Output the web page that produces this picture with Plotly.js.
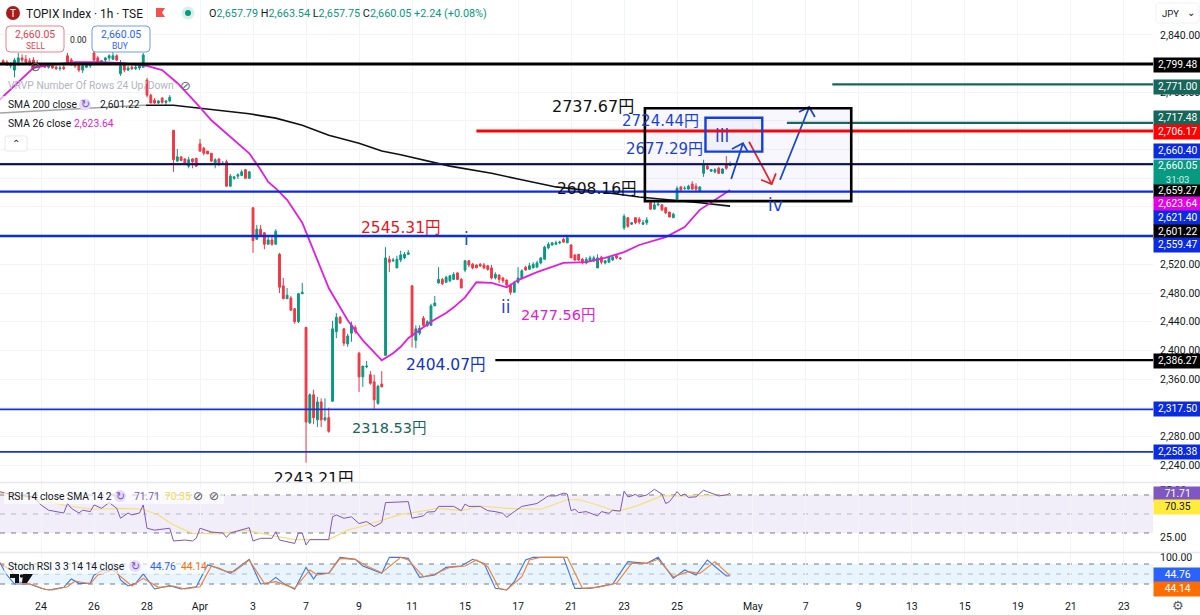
<!DOCTYPE html>
<html>
<head>
<meta charset="utf-8">
<script src="https://cdn.plot.ly/plotly-3.0.1.min.js"></script>
<style>html,body{margin:0;padding:0;background:#fff}#chart{width:1200px;height:615px}</style>
</head>
<body>
<div id="chart"></div>
<script>
// ---------- data ----------
const firstBar = -10;
const opens = [2804,2802,2797,2791,2802,2808,2806,2804,2805,2800,
2798,2798,2795,2797,2795,2793,2795,
2811,2805,2800,2798,2791,2795,2797,
2815,2808,2802,2805,2808,2806,2811,
2786,2798,2791,2795,2793,2794,2795,
2777,2756,2749,2745,2752,2746,2748,
2707,2664,2670,2667,2657,2667,2668,
2688,2682,2678,2675,2661,2667,2660,
2663,2629,2640,2643,2644,2652,2640,
2599,2555,2569,2564,2548,2554,2548,
2534,2490,2472,2473,2458,2440,2479,
2432,2299,2338,2303,2328,2303,2306,
2329,2426,2446,2430,2409,2424,2432,
2396,2363,2377,2366,2356,2326,2353,
2393,2527,2525,2515,2526,2529,2534,
2490,2414,2424,2445,2434,2435,2462,
2494,2499,2495,2497,2499,2508,2499,
2512,2525,2520,2519,2520,2519,2518,
2515,2501,2505,2501,2498,2491,2481,
2495,2501,2516,2513,2515,2516,2522,
2527,2543,2547,2548,2550,2555,2550,
2547,2533,2534,2527,2522,2525,2525,
2515,2530,2522,2523,2526,2532,2529,
2571,2585,2576,2585,2583,2576,2578,
2606,2597,2603,2603,2599,2593,2585,
2611,2628,2626,2625,2632,2629,2622,
2647,2657,2650,2649,2654,2647,2659,2657.79];
const highs = [2806,2805,2802,2808,2815,2813,2812,2808,2809,2805,
2801,2801,2798,2800,2797,2797,2798,
2815,2808,2802,2801,2800,2801,2802,
2819,2811,2805,2809,2813,2816,2813,
2805,2801,2797,2798,2798,2798,2815,
2780,2758,2752,2749,2753,2749,2756,
2707,2681,2670,2668,2670,2668,2668,
2695,2684,2678,2675,2668,2668,2664,
2666,2646,2643,2647,2652,2653,2650,
2599,2575,2575,2565,2561,2560,2569,
2536,2501,2487,2476,2459,2480,2494,
2432,2340,2345,2335,2333,2333,2320,
2441,2452,2448,2431,2423,2440,2435,
2398,2378,2385,2371,2366,2352,2371,
2544,2532,2529,2532,2539,2537,2540,
2491,2435,2435,2448,2442,2465,2476,
2516,2501,2504,2505,2509,2509,2501,
2526,2526,2522,2520,2522,2522,2519,
2519,2509,2506,2502,2499,2493,2497,
2516,2513,2518,2522,2523,2525,2530,
2546,2551,2551,2553,2553,2557,2561,
2548,2534,2534,2529,2530,2532,2532,
2534,2532,2526,2532,2533,2533,2530,
2590,2586,2579,2586,2586,2582,2586,
2607,2607,2607,2604,2600,2593,2592,
2629,2629,2629,2631,2636,2633,2629,
2666,2659,2653,2654,2656,2654,2671,2663.54];
const lows = [2801,2797,2794,2781,2797,2802,2801,2797,2791,2794,
2795,2794,2793,2793,2791,2790,2791,
2801,2797,2794,2788,2787,2794,2794,
2802,2800,2801,2802,2804,2805,2804,
2783,2788,2790,2791,2791,2791,2795,
2753,2745,2744,2744,2744,2742,2746,
2649,2663,2664,2660,2654,2654,2656,
2677,2672,2674,2663,2654,2657,2659,
2629,2629,2638,2639,2643,2640,2640,
2536,2554,2560,2541,2548,2546,2548,
2480,2472,2472,2455,2437,2438,2479,
2243.21,2297,2297,2293,2293,2301,2285,
2329,2417,2437,2406,2405,2412,2423,
2342,2349,2375,2352,2318.53,2324,2349,
2393,2509,2523,2515,2523,2527,2533,
2404.07,2403,2421,2433,2433,2434,2462,
2493,2491,2494,2495,2499,2498,2487,
2509,2516,2513,2515,2516,2513,2511,
2499,2499,2494,2494,2488,2477.56,2481,
2493,2499,2511,2513,2515,2516,2520,
2527,2541,2546,2547,2548,2550,2550,
2529,2525,2525,2520,2520,2525,2523,
2515,2520,2520,2522,2525,2527,2526,
2568,2571,2575,2576,2576,2575,2575,
2596,2597,2601,2594,2590,2586,2585,
2610,2621,2624,2624,2624,2622,2622,
2642,2652,2649,2647,2646,2646,2652,2657.75];
const closes = [2801,2798,2800,2805,2808,2805,2802,2800,2795,2797,
2797,2795,2797,2794,2793,2794,2793,
2802,2800,2797,2791,2797,2798,2800,
2805,2802,2804,2808,2811,2811,2805,
2797,2791,2794,2793,2795,2797,2812,
2756,2745,2745,2748,2746,2748,2753,
2666,2670,2665,2661,2666,2663,2657,
2678,2675,2674,2664,2666,2660,2661,
2629,2643,2642,2645,2649,2640,2649,
2553,2569,2561,2548,2554,2548,2566,
2488,2472,2477,2456,2440,2479,2481,
2300,2338,2306,2328,2303,2306,2287,
2430,2446,2438,2410,2420,2435,2426,
2363,2378,2378,2354,2331,2350,2349,
2529,2523,2526,2527,2533,2534,2536,
2420,2430,2431,2435,2440,2462,2466,
2499,2493,2502,2504,2506,2499,2487,
2525,2519,2515,2515,2518,2515,2513,
2501,2506,2499,2497,2491,2481,2494,
2501,2511,2512,2518,2520,2522,2529,
2544,2548,2550,2550,2551,2551,2557,
2529,2526,2526,2522,2527,2529,2529,
2529,2523,2525,2530,2530,2529,2528,
2587,2573,2578,2578,2579,2578,2582,
2597,2603,2604,2596,2592,2586,2590,
2626,2624,2626,2629,2625,2625,2628,
2659,2653,2652,2652,2647,2653,2654,2660.05];

const sma26Bars = [-11,-9,-2,2,9,15,21,28,32,36,41,45,51,55,58,60,62,65,69,76,81,85,90,93,95,97,103,107,109,112,115,119,123,126,131,138,144,149,154,158,165,170,174,177,182];
const sma26Vals = [2749,2759,2794,2798,2802,2802,2801,2797,2791,2773,2745,2721,2693,2675,2652,2635,2626,2610,2578,2487,2442,2414,2386,2396,2405,2417,2440,2452,2460,2474,2495,2494,2488,2498,2509,2522,2523,2529,2537,2547,2558,2572,2596,2606,2623.64];
const sma200Bars = [-11,27,35,44,55,62,69,76,84,90,95,108,119,126,136,148,158,174,182];
const sma200Vals = [2731,2742,2742,2737,2730,2724,2714,2700,2689,2678,2673,2657,2647,2639,2628,2621,2614,2606,2601.22];

const rsiBars = [-11,-7,-2,0,2,6,7,8,10,11,13,14,16,18,20,21,23,24,26,27,28,30,34,35,38,40,41,42,45,48,49,50,55,56,58,61,62,63,67,68,69,70,71,76,77,78,80,82,84,86,88,90,91,95,97,98,101,102,104,105,109,111,112,113,116,118,120,122,123,125,127,131,134,136,138,139,140,141,142,144,147,148,150,151,153,154,155,156,157,158,160,162,164,165,166,168,169,170,171,173,175,176,178,179,181,182];
const rsiVals = [73.5,70,68,59.5,54,51,61,56,51,54,52.5,59.5,56,62,56,45.5,51,49,51,59.5,35,33,35,21.6,22.6,21.6,24.4,35,31,30,25.4,30,35.6,21.6,24.4,24.4,31.4,22.6,19,30,30,17.4,23,23,47,49,45.5,47,40,42,36.7,41,62,63,63,45.5,48,52,52.5,58,58,53.5,60.5,58,58,53.5,52.5,50.7,46.5,52.5,58,61,69,69,72,71,53.5,55,51.4,52.5,48,52.5,50.7,54,53,74,68,69,70.7,68,70,76,71,61,63,73.5,69,71,67.5,68,75,73.5,70,69,70,71.71];
const rsiSmaBars = [-11,-2,2,7,14,21,27,31,35,40,47,54,60,67,76,81,86,95,99,105,111,116,123,132,139,142,147,152,157,164,170,174,179,182];
const rsiSmaVals = [72,66.5,63,58.4,55,56,55,49,38.4,29.6,29,33,28,23,23,33,38.4,49.6,52,56,53.5,58.4,56,55,65,65,59.5,52.5,58,69,69,69,69.6,70.35];

const stochKBars = [-11,-9,-7,-3,0,2,6,8,10,13,14,16,20,21,23,25,27,30,34,37,41,44,47,50,55,58,60,62,64,67,70,72,73,76,79,83,85,90,92,95,97,100,104,107,111,114,117,120,123,125,128,130,138,141,145,151,155,160,163,167,170,173,176,181,182];
const stochKVals = [87,47,20,20,7,2,10,35,22,22,47,60,62,32,14,22,50,5,15,5,12,77,67,52,94,20,22,40,22,4,70,35,52,52,100,94,74,52,100,100,97,40,47,70,74,94,82,7,2,27,92,100,100,7,7,20,87,82,100,37,62,47,92,44,44.76];
const stochDBars = [-11,-8,-6,-2,1,3,7,9,13,15,19,22,24,27,31,35,38,42,45,49,51,55,59,62,67,71,73,76,79,83,86,90,95,97,101,104,108,112,115,118,121,123,127,129,132,139,143,147,152,156,160,163,167,171,174,178,182];
const stochDVals = [82,62,27,17,4,2,12,29,20,47,62,32,14,37,10,14,5,12,74,57,57,92,22,27,7,62,47,52,97,94,74,54,100,92,42,50,70,74,92,72,7,2,42,92,100,100,7,10,22,82,82,94,42,57,52,87,44.14];

// Price levels: [price, first bar, colour, width]
const levelPrices = [2799.48,2771.00,2717.48,2706.17,2660.40,2659.27,2621.40,2559.47,2386.27,2317.50,2258.38];
const levelStarts = [-11,209,197,115,-11,-11,-11,-11,120,-11,-11];
const levelColors = ['#000000','#17665a','#17665a','#ff0000','#1426c8','#0b0f3a','#0a2be0','#0a2be0','#000000','#1433d6','#1433d6'];
const levelWidths = [3,2.2,2.2,3,1.2,1.4,2.4,2.4,2.2,1.8,1.8];

// Elliott wave forecast drawing: tail, tip, wing, tip, wing
const arrowUpBars = [182.3,185.4,182.5,185.4,186.7];
const arrowUpPrices = [2639,2689,2681,2689,2677];
const arrowDownBars = [187,193,190.2,193,194.1];
const arrowDownPrices = [2691,2632,2638,2632,2647];
const arrowUp2Bars = [195.2,202.9,200.2,202.9,204.4];
const arrowUp2Prices = [2638,2739.5,2732.5,2739.5,2725.5];

const dateTickBars = [0,14,28,42,56,70,84,98,112,126,140,154,168,188,202,216,230,244,258,272,286];
const dateTickText = ['24','26','28','Apr','3','7','9','11','15','17','21','23','25','May','7','9','13','15','19','21','23'];
const priceTicks = [2840,2800,2760,2720,2680,2640,2600,2560,2520,2480,2440,2400,2360,2320,2280,2240];

// ---------- layout helpers (picture pixels to paper) ----------
const W = 1153, H = 592;
const X = p => p / W, Y = p => 1 - p / H;
const UI = 'Roboto, Arial, sans-serif';
const CJK = '"DejaVu Sans", "Noto Sans CJK JP", sans-serif';
const UP = '#089981', DOWN = '#f23645';

const bars = opens.map((_, k) => k + firstBar);
const traces = [];
traces.push({type:'scatter',mode:'lines',x:sma200Bars,y:sma200Vals,line:{color:'#111111',width:1.6},hoverinfo:'skip',xaxis:'x',yaxis:'y',cliponaxis:true});
traces.push({type:'candlestick',x:bars,open:opens,high:highs,low:lows,close:closes,whiskerwidth:0,
  increasing:{line:{color:UP,width:1},fillcolor:UP},decreasing:{line:{color:DOWN,width:1},fillcolor:DOWN},hoverinfo:'skip',xaxis:'x',yaxis:'y'});
traces.push({type:'scatter',mode:'lines',x:sma26Bars,y:sma26Vals,line:{color:'#e01ee0',width:1.8},hoverinfo:'skip',xaxis:'x',yaxis:'y'});
traces.push({type:'scatter',mode:'lines',x:arrowUpBars,y:arrowUpPrices,line:{color:'#1848cc',width:1.8},hoverinfo:'skip'});
traces.push({type:'scatter',mode:'lines',x:arrowDownBars,y:arrowDownPrices,line:{color:'#ee2222',width:1.8},hoverinfo:'skip'});
traces.push({type:'scatter',mode:'lines',x:arrowUp2Bars,y:arrowUp2Prices,line:{color:'#1848cc',width:1.8},hoverinfo:'skip'});
traces.push({type:'scatter',mode:'text',x:[72],y:[2219],text:['2243.21円'],textposition:'middle center',cliponaxis:true,
  textfont:{family:CJK,size:15.5,color:'#111111'},hoverinfo:'skip'});
traces.push({type:'scatter',mode:'lines',x:rsiSmaBars,y:rsiSmaVals,line:{color:'#f3e07a',width:1.2},hoverinfo:'skip',xaxis:'x',yaxis:'y2'});
traces.push({type:'scatter',mode:'lines',x:rsiBars,y:rsiVals,line:{color:'#7e57c2',width:1},hoverinfo:'skip',xaxis:'x',yaxis:'y2'});
traces.push({type:'scatter',mode:'lines',x:stochKBars,y:stochKVals,line:{color:'#3f73e8',width:1.1},hoverinfo:'skip',xaxis:'x',yaxis:'y3'});
traces.push({type:'scatter',mode:'lines',x:stochDBars,y:stochDVals,line:{color:'#f08030',width:1.1},hoverinfo:'skip',xaxis:'x',yaxis:'y3'});

const shapes = [];
// indicator bands
shapes.push({type:'rect',xref:'paper',x0:0,x1:1,yref:'y2',y0:30,y1:70,fillcolor:'rgba(126,87,194,0.10)',line:{width:0},layer:'below'});
shapes.push({type:'rect',xref:'paper',x0:0,x1:1,yref:'y3',y0:20,y1:80,fillcolor:'rgba(33,150,243,0.10)',line:{width:0},layer:'below'});
[[70,'y2'],[50,'y2'],[30,'y2'],[80,'y3'],[50,'y3'],[20,'y3']].forEach(([v,ax],n)=>{
  shapes.push({type:'line',xref:'paper',x0:0,x1:1,yref:ax,y0:v,y1:v,line:{color:(n===1||n===4)?'#b8bac2':'#787b86',width:1,dash:'5px 6px'},layer:'below'});
});
// pane separators
[482.5,552.5].forEach(p=>shapes.push({type:'line',xref:'paper',yref:'paper',x0:0,x1:1200/W,y0:Y(p),y1:Y(p),line:{color:'#e6e8ee',width:1.5}}));
// price levels
levelPrices.forEach((p,k)=>shapes.push({type:'line',xref:'x',yref:'y',x0:levelStarts[k],x1:294,y0:p,y1:p,line:{color:levelColors[k],width:levelWidths[k]}}));
// Rectangles between the labelled prices
shapes.push({type:'rect',xref:'x',yref:'y',x0:159.5,x1:214,y0:2608.16,y1:2737.67,line:{color:'#000000',width:2.6},fillcolor:'rgba(90,90,210,0.05)'});
shapes.push({type:'rect',xref:'x',yref:'y',x0:175.5,x1:190.5,y0:2677.29,y1:2724.44,line:{color:'#1440d8',width:2.4},fillcolor:'rgba(90,90,210,0.04)'});

// interface chrome
function round(x0,y0,x1,y1,r,line,fill,w){
  const a=X,b=Y;
  shapes.push({type:'path',xref:'paper',yref:'paper',fillcolor:fill,line:{color:line,width:w||1},
   path:`M${a(x0+r)},${b(y0)} L${a(x1-r)},${b(y0)} Q${a(x1)},${b(y0)} ${a(x1)},${b(y0+r)} L${a(x1)},${b(y1-r)} Q${a(x1)},${b(y1)} ${a(x1-r)},${b(y1)} L${a(x0+r)},${b(y1)} Q${a(x0)},${b(y1)} ${a(x0)},${b(y1-r)} L${a(x0)},${b(y0+r)} Q${a(x0)},${b(y0)} ${a(x0+r)},${b(y0)} Z`});
}
function circle(cx,cy,rad,fill){
  shapes.push({type:'circle',xref:'paper',yref:'paper',x0:X(cx-rad),x1:X(cx+rad),y0:Y(cy+rad),y1:Y(cy-rad),fillcolor:fill,line:{width:0}});
}
function poly(pts,fill){
  shapes.push({type:'path',xref:'paper',yref:'paper',fillcolor:fill,line:{width:0},path:'M'+pts.map(p=>X(p[0])+','+Y(p[1])).join(' L')+' Z'});
}
const veil='rgba(255,255,255,0.62)';
shapes.push({type:'rect',xref:'paper',yref:'paper',x0:0,x1:X(146),y0:Y(132),y1:Y(96),fillcolor:veil,line:{width:0}});
shapes.push({type:'rect',xref:'paper',yref:'paper',x0:X(4),x1:X(224),y0:Y(504),y1:Y(488),fillcolor:veil,line:{width:0}});
shapes.push({type:'rect',xref:'paper',yref:'paper',x0:X(4),x1:X(205),y0:Y(574),y1:Y(558),fillcolor:veil,line:{width:0}});
round(6,26,64,52,4,'#f0808a','#ffffff',1);
round(92,26,150,52,4,'#6f9cf0','#ffffff',1);
round(5,136,27,151,2,'#e6e8ee','#ffffff',1);
round(1156,3,1199,23,3,'#f0f1f4','#ffffff',1);
circle(13,13,7,'#a81b1b');
poly([[156,8],[165,8],[162,12.5],[165,17],[156,17]],'#f2524e');
circle(188,13,6.5,'#d9efe9');
circle(188,13,3,UP);
circle(85,104.5,6,'#e6dcf7');
circle(120,496,6,'#e6dcf7');
circle(135,566,6,'#e6dcf7');
// small mark in the corner of the lower pane
poly([[10,574],[19,574],[19,583],[15,583],[15,578],[10,578]],'#111111');
poly([[23,574],[33,574],[27,583],[22,583]],'#111111');
circle(21.5,576,1.7,'#111111');

const ann = [];
function text(px,py,str,opt={}){
  ann.push(Object.assign({xref:'paper',yref:'paper',x:X(px),y:Y(py),text:str,showarrow:false,
    xanchor:opt.a||'left',yanchor:'middle',align:opt.align||'left',borderpad:0,
    font:{family:opt.f||UI,size:opt.s||10.3,color:opt.c||'#131722'}},opt.box?{bgcolor:opt.box,width:opt.w,height:opt.h}:{}));
}
// drawn labels
text(593,106,'2737.67円',{a:'center',f:CJK,s:16,c:'#111111'});
text(660,121,'2724.44円',{a:'center',f:CJK,s:15,c:'#1b43d2'});
text(664,149,'2677.29円',{a:'center',f:CJK,s:15,c:'#1b43d2'});
text(597,189,'2608.16円',{a:'center',f:CJK,s:15.5,c:'#111111'});
text(401,228,'2545.31円',{a:'center',f:CJK,s:15.5,c:'#e8141c'});
text(558,315,'2477.56円',{a:'center',f:CJK,s:14.5,c:'#e020d8'});
text(446,365,'2404.07円',{a:'center',f:CJK,s:15.5,c:'#1433c8'});
text(389,428,'2318.53円',{a:'center',f:CJK,s:14.5,c:'#17665a'});
text(466,239,'i',{a:'center',f:CJK,s:17,c:'#1b43d2'});
text(506,307,'ii',{a:'center',f:CJK,s:17,c:'#1b43d2'});
text(722,136,'iii',{a:'center',f:CJK,s:17,c:'#1b43d2'});
text(776,205,'iv',{a:'center',f:CJK,s:17,c:'#1b43d2'});
// right-hand price tags
const tags=[['2,799.48',65,'#000000'],['2,771.00',86.5,'#17665a'],['2,717.48',118,'#17665a'],['2,706.17',132,'#ff0000'],
 ['2,660.40',151,'#0a2be0'],['2,659.27',190.5,'#000000'],['2,623.64',204,'#e600e6'],['2,621.40',217.5,'#0a2be0'],
 ['2,601.22',231.5,'#000000'],['2,559.47',244.5,'#0a2be0'],['2,386.27',361,'#000000'],['2,317.50',409,'#0a2be0'],['2,258.38',452,'#0a2be0'],
 ['71.71',494,'#7e57c2'],['44.76',575,'#2962ff'],['44.14',588.5,'#ff6d00']];
tags.forEach(t=>text(1152.5,t[1],t[0],{box:t[2],w:47.5,h:13.5,c:'#ffffff',align:'center'}));
text(1152.5,507,'70.35',{box:'#ffeb3b',w:47.5,h:13.5,c:'#131722',align:'center'});
text(1152.5,172,'2,660.05<br><span style="font-size:9.5px;color:#d4efe8">31:03</span>',{box:UP,w:47.5,h:24,c:'#ffffff',align:'center'});
// header
text(13,13.5,'T',{a:'center',s:10,c:'#ffffff',f:'Roboto'});
text(25,13.5,'TOPIX Index · 1h · TSE',{s:11.9});
const g=s=>`<span style="color:${UP}">${s}</span>`;
text(207.5,13.5,`O${g('2,657.79')} H${g('2,663.54')} L${g('2,657.75')} C${g('2,660.05 +2.24 (+0.08%)')}`,{s:10.85});
text(35,34.5,'2,660.05',{a:'center',c:'#e8404e',s:10.5});
text(35,45.5,'SELL',{a:'center',c:'#e8404e',s:8.5});
text(121,34.5,'2,660.05',{a:'center',c:'#2962ff',s:10.5});
text(121,45.5,'BUY',{a:'center',c:'#2962ff',s:8.5});
text(78.5,39.5,'0.00',{a:'center',s:8.5});
text(16,143,'⌃',{a:'center',s:10});
text(1161,13.5,'JPY',{s:9.5});
text(1191,12,'⌄',{a:'center',s:10});
text(1178,605,'⚙',{a:'center',s:13,c:'#555a66',f:'DejaVu Sans'});
// legends
text(7,85,'VRVP Number Of Rows 24 Up/Down',{c:'#b2b5be'});
text(185,85,'⊘',{a:'center',s:13,c:'#666666',f:'DejaVu Sans'});
text(35,66,'⊘',{a:'center',s:13,c:'#555555',f:'DejaVu Sans'});
text(7,104.5,'SMA 200 close');
text(85,104.5,'↻',{a:'center',s:11,c:'#7e57c2',f:'DejaVu Sans'});
text(99,104.5,'2,601.22');
text(7,123.5,'SMA 26 close');
text(73,123.5,'2,623.64',{c:'#e020d8'});
text(7,496,'RSI 14 close SMA 14 2');
text(120,496,'↻',{a:'center',s:11,c:'#7e57c2',f:'DejaVu Sans'});
text(133,496,'71.71',{c:'#7e57c2'});
text(164,496,'70.35',{c:'#f3d94a'});
text(198,496,'⊘',{a:'center',s:12,c:'#555555',f:'DejaVu Sans'});
text(214,496,'⊘',{a:'center',s:12,c:'#555555',f:'DejaVu Sans'});
text(7,566,'Stoch RSI 3 3 14 14 close');
text(135,566,'↻',{a:'center',s:11,c:'#7e57c2',f:'DejaVu Sans'});
text(149,566,'44.76',{c:'#2962ff'});
text(180,566,'44.14',{c:'#ff6d00'});

const grid='#f3f4f7';
const tickFont={family:UI,size:10.5,color:'#131722'};
const yBase={side:'right',showgrid:true,gridcolor:grid,gridwidth:1,zeroline:false,showline:false,ticks:'',ticklabelstandoff:6,tickfont:tickFont,tickformat:',.2f',fixedrange:true};
const layout={
  width:1200,height:615,autosize:false,margin:{l:0,r:47,t:0,b:23,pad:0},
  paper_bgcolor:'#ffffff',plot_bgcolor:'#ffffff',showlegend:false,dragmode:false,
  xaxis:{domain:[0,1],range:[-10.83,293.7],anchor:'y3',tickmode:'array',tickvals:dateTickBars,ticktext:dateTickText,
    showgrid:true,gridcolor:grid,gridwidth:1,zeroline:false,showline:false,ticks:'',ticklabelstandoff:6,tickfont:tickFont,rangeslider:{visible:false},fixedrange:true},
  yaxis:Object.assign({},yBase,{domain:[Y(482),1],range:[2216.3,2888.8],tickmode:'array',tickvals:priceTicks,anchor:'x'}),
  yaxis2:Object.assign({},yBase,{domain:[Y(552),Y(483)],range:[10,82.6],tickmode:'array',tickvals:[25,75],showgrid:false,anchor:'x'}),
  yaxis3:Object.assign({},yBase,{domain:[0,Y(553)],range:[-4,113],tickmode:'array',tickvals:[100],showgrid:false,anchor:'x'}),
  shapes:shapes,annotations:ann
};
Plotly.newPlot('chart',traces,layout,{displayModeBar:false,staticPlot:true,responsive:false});
</script>
</body>
</html>
